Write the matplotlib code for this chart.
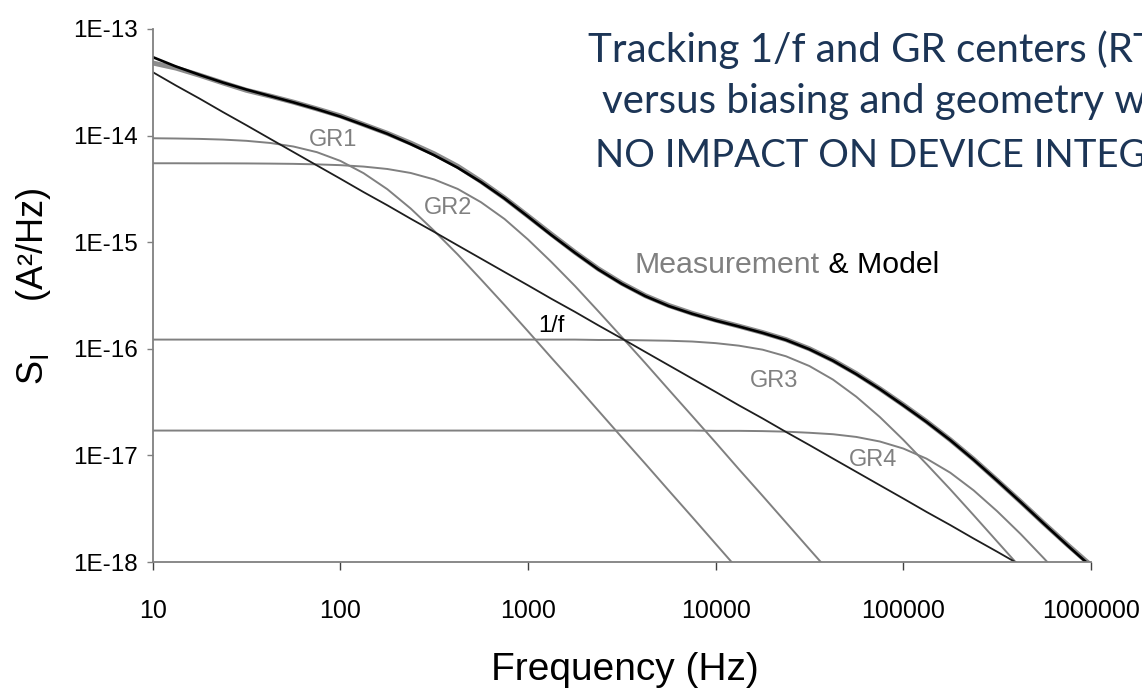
import matplotlib
matplotlib.use('Agg')
import matplotlib.pyplot as plt

plt.rcParams['font.family'] = ['Liberation Sans', 'DejaVu Sans']

# frequency points (Hz), eighth decades
freq = [10, 13.3, 17.8, 23.7, 31.6, 42.2, 56.2, 75.0,
        100, 133, 178, 237, 316, 422, 562, 750,
        1000, 1330, 1780, 2370, 3160, 4220, 5620, 7500,
        1e4, 13300, 17800, 23700, 31600, 42200, 56200, 75000,
        1e5, 133000, 178000, 237000, 316000, 422000, 562000, 750000, 1e6]

# noise components (A^2/Hz)
s_1f = [3.94e-14, 2.95e-14, 2.22e-14, 1.66e-14, 1.25e-14, 9.34e-15, 7.01e-15, 5.25e-15,
        3.94e-15, 2.95e-15, 2.22e-15, 1.66e-15, 1.25e-15, 9.34e-16, 7.01e-16, 5.25e-16,
        3.94e-16, 2.95e-16, 2.22e-16, 1.66e-16, 1.25e-16, 9.34e-17, 7.01e-17, 5.25e-17,
        3.94e-17, 2.95e-17, 2.22e-17, 1.66e-17, 1.25e-17, 9.34e-18, 7.01e-18, 5.25e-18,
        3.94e-18, 2.95e-18, 2.22e-18, 1.66e-18, 1.25e-18, 9.34e-19]
s_gr1 = [9.44e-15, 9.39e-15, 9.31e-15, 9.17e-15, 8.93e-15, 8.53e-15, 7.90e-15, 6.99e-15,
         5.79e-15, 4.44e-15, 3.14e-15, 2.07e-15, 1.28e-15, 7.67e-16, 4.47e-16, 2.57e-16,
         1.46e-16, 8.27e-17, 4.67e-17, 2.63e-17, 1.48e-17, 8.34e-18, 4.69e-18, 2.64e-18,
         1.48e-18, 8.35e-19]
s_gr2 = [5.50e-15, 5.50e-15, 5.49e-15, 5.49e-15, 5.48e-15, 5.46e-15, 5.43e-15, 5.37e-15,
         5.28e-15, 5.12e-15, 4.86e-15, 4.46e-15, 3.88e-15, 3.16e-15, 2.37e-15, 1.65e-15,
         1.06e-15, 6.54e-16, 3.88e-16, 2.25e-16, 1.29e-16, 7.33e-17, 4.14e-17, 2.34e-17,
         1.32e-17, 7.42e-18, 4.17e-18, 2.35e-18, 1.32e-18, 7.43e-19]
s_gr3 = [1.22e-16, 1.22e-16, 1.22e-16, 1.22e-16, 1.22e-16, 1.22e-16, 1.22e-16, 1.22e-16,
         1.22e-16, 1.22e-16, 1.22e-16, 1.22e-16, 1.22e-16, 1.22e-16, 1.22e-16, 1.22e-16,
         1.22e-16, 1.22e-16, 1.22e-16, 1.21e-16, 1.21e-16, 1.20e-16, 1.19e-16, 1.17e-16,
         1.13e-16, 1.07e-16, 9.81e-17, 8.51e-17, 6.89e-17, 5.14e-17, 3.55e-17, 2.29e-17,
         1.40e-17, 8.29e-18, 4.80e-18, 2.75e-18, 1.56e-18, 8.83e-19]
s_gr4 = [1.71e-17, 1.71e-17, 1.71e-17, 1.71e-17, 1.71e-17, 1.71e-17, 1.71e-17, 1.71e-17,
         1.71e-17, 1.71e-17, 1.71e-17, 1.71e-17, 1.71e-17, 1.71e-17, 1.71e-17, 1.71e-17,
         1.71e-17, 1.71e-17, 1.71e-17, 1.71e-17, 1.71e-17, 1.71e-17, 1.71e-17, 1.71e-17,
         1.70e-17, 1.70e-17, 1.69e-17, 1.67e-17, 1.63e-17, 1.58e-17, 1.49e-17, 1.35e-17,
         1.16e-17, 9.32e-18, 6.88e-18, 4.70e-18, 3.00e-18, 1.83e-18, 1.08e-18, 6.25e-19,
         3.57e-19]

# model sum and measured spectrum
s_model = [5.45e-14, 4.45e-14, 3.71e-14, 3.14e-14, 2.70e-14, 2.35e-14, 2.05e-14, 1.77e-14,
           1.51e-14, 1.26e-14, 1.04e-14, 8.33e-15, 6.55e-15, 5.00e-15, 3.66e-15, 2.57e-15,
           1.74e-15, 1.17e-15, 7.96e-16, 5.55e-16, 4.07e-16, 3.12e-16, 2.52e-16, 2.13e-16,
           1.84e-16, 1.62e-16, 1.41e-16, 1.21e-16, 9.90e-17, 7.73e-17, 5.78e-17, 4.19e-17,
           2.95e-17, 2.06e-17, 1.39e-17, 9.11e-18, 5.81e-18, 3.65e-18, 2.28e-18, 1.43e-18,
           9.09e-19]
s_meas = [4.80e-14, 4.30e-14, 3.68e-14, 3.12e-14, 2.66e-14, 2.35e-14, 2.06e-14, 1.78e-14,
          1.53e-14, 1.27e-14, 1.05e-14, 8.50e-15, 6.75e-15, 5.15e-15, 3.72e-15, 2.60e-15,
          1.76e-15, 1.19e-15, 8.05e-16, 5.62e-16, 4.12e-16, 3.15e-16, 2.55e-16, 2.15e-16,
          1.86e-16, 1.63e-16, 1.42e-16, 1.22e-16, 1.00e-16, 7.80e-17, 5.85e-17, 4.22e-17,
          2.98e-17, 2.08e-17, 1.40e-17, 9.20e-18, 5.85e-18, 3.68e-18, 2.30e-18, 1.45e-18,
          9.30e-19]

x_ticks = [10, 100, 1000, 10000, 100000, 1000000]
x_labels = ['10', '100', '1000', '10000', '100000', '1000000']
y_ticks = [1e-18, 1e-17, 1e-16, 1e-15, 1e-14, 1e-13]
y_labels = ['1E-18', '1E-17', '1E-16', '1E-15', '1E-14', '1E-13']

grey = '#808080'

fig = plt.figure(figsize=(11.42, 6.9), dpi=100)
ax = fig.add_axes([0.1337, 0.1855, 0.8216, 0.7725])
ax.set_xscale('log')
ax.set_yscale('log')

for s in (s_gr1, s_gr2, s_gr3, s_gr4):
    ax.plot(freq[:len(s)], s, color=grey, lw=1.4)
ax.plot(freq[:len(s_1f)], s_1f, color='#1e1e1e', lw=1.3)
ax.plot(freq, s_meas, color='#8c8c8c', lw=3.6, solid_joinstyle='round')
ax.plot(freq, s_model, color='black', lw=1.9)

ax.set_xlim(10, 1e6)
ax.set_ylim(1e-18, 1e-13)
ax.set_xticks(x_ticks, x_labels)
ax.set_yticks(y_ticks, y_labels)
ax.minorticks_off()

for side in ('top', 'right'):
    ax.spines[side].set_visible(False)
for side in ('left', 'bottom'):
    ax.spines[side].set_color(grey)
    ax.spines[side].set_linewidth(1.3)
ax.tick_params(axis='x', direction='out', length=5.5, width=1, color='#404040',
               labelsize=18, pad=21)
ax.tick_params(axis='y', direction='out', length=4.5, width=1, color=grey,
               labelsize=17.5, pad=6)

# component labels
lab = dict(transform=ax.transAxes, fontsize=17, va='baseline', ha='left')
ax.text(0.1669, 0.7805, 'GR1', color=grey, **lab)
ax.text(0.2891, 0.6523, 'GR2', color=grey, **lab)
ax.text(0.4110, 0.4321, '1/f', color='black', **lab)
ax.text(0.6365, 0.3289, 'GR3', color=grey, **lab)
ax.text(0.7423, 0.1801, 'GR4', color=grey, **lab)

meas = ax.text(0.5140, 0.5428, 'Measurement', color=grey, fontsize=21.8,
               transform=ax.transAxes, va='baseline', ha='left')
ax.annotate(' & Model', xy=(1, 0), xycoords=meas, color='black', fontsize=21.8,
            va='bottom', ha='left')

# headline
navy = '#1c3556'
hl = dict(color=navy, family=['Lato', 'DejaVu Sans'], va='baseline', ha='left')
fig.text(0.5149, 0.9106, 'Tracking 1/f and GR centers (RTS)', fontsize=29, **hl)
fig.text(0.5271, 0.8358, 'versus biasing and geometry with', fontsize=29, **hl)
fig.text(0.5210, 0.7584, 'NO IMPACT ON DEVICE INTEGRITY', fontsize=27.6, **hl)

fig.text(0.547, 0.0145, 'Frequency (Hz)', fontsize=28, ha='center', va='baseline')
fig.text(0.029, 0.585, r'S$_\mathrm{I}$     (A²/Hz)', fontsize=26, rotation=90,
         ha='center', va='center')

fig.savefig('out.png', dpi=100)
